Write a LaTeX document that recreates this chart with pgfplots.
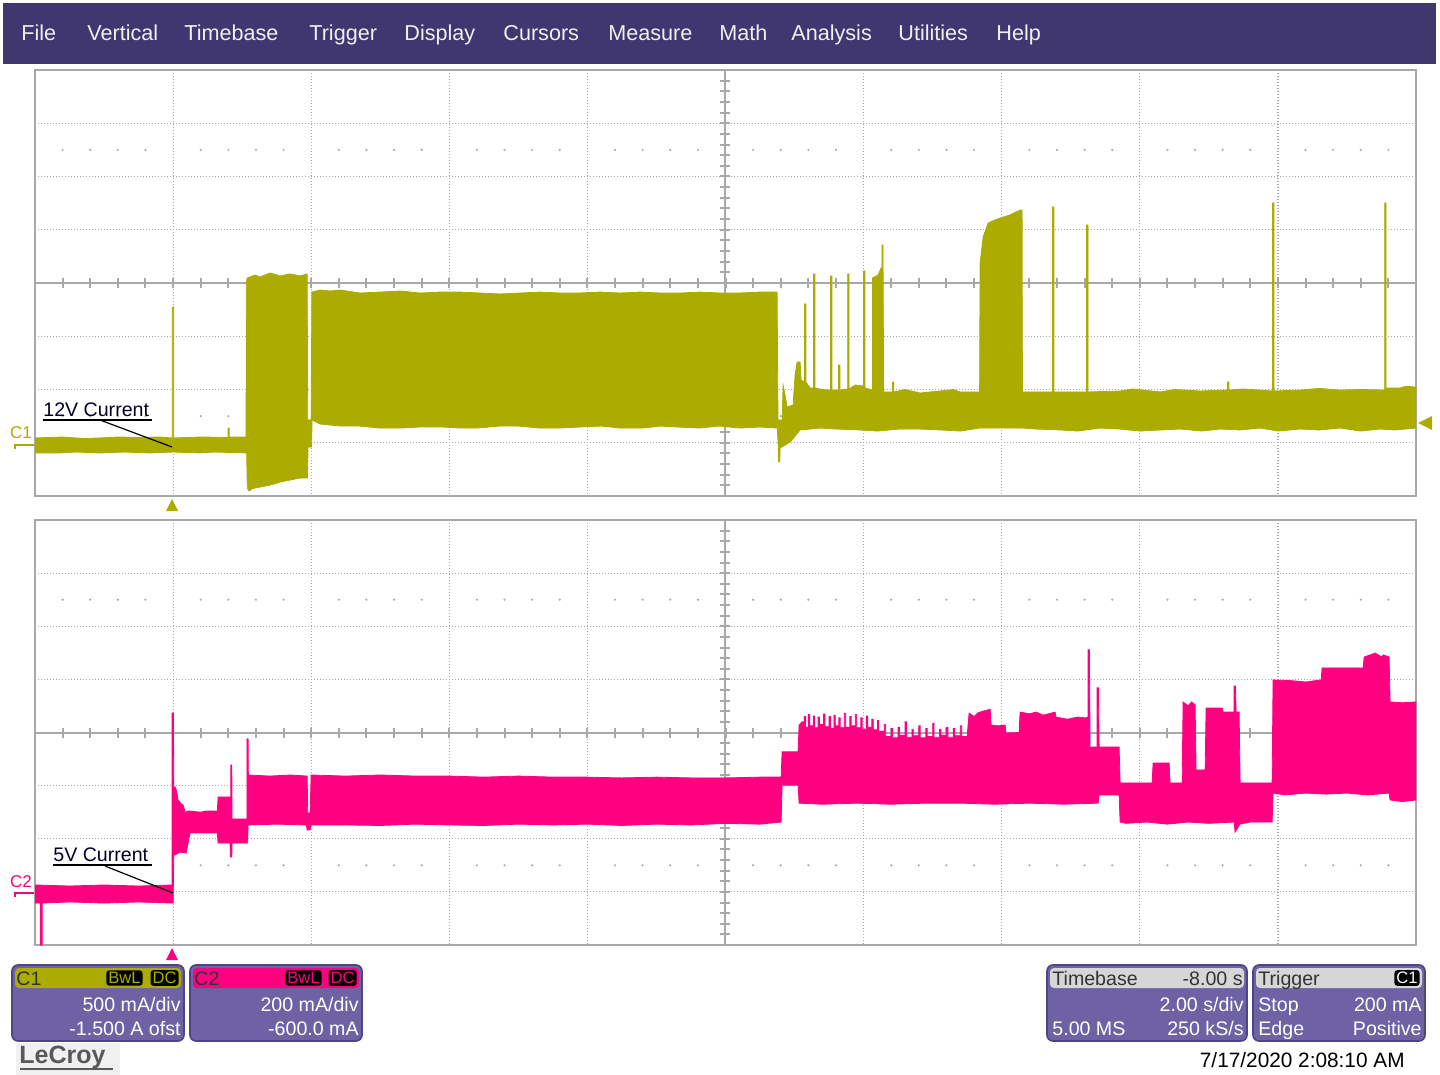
\documentclass[border=0pt]{standalone}
\usepackage{pgfplots}
\pgfplotsset{compat=1.18}
\usepackage{fontspec}
\setmainfont{Liberation Sans}
\definecolor{olv}{HTML}{ABAB00}
\definecolor{pnk}{HTML}{FF0080}
\definecolor{menubg}{HTML}{403670}
\definecolor{boxbg}{HTML}{6E62A5}
\definecolor{boxbd}{HTML}{4E4488}
\definecolor{gridc}{HTML}{A8A8A8}
\definecolor{hdrgray}{HTML}{D6D6D6}
\begin{document}
\begin{tikzpicture}
\begin{scope}[x=0.5pt,y=-0.5pt]
\useasboundingbox (0,0) rectangle (1440,1075);
\fill[white] (0,0) rectangle (1440,1075);
% menu bar
\fill[menubg] (3,3) rectangle (1436,64);
\foreach \xx/\lbl in {21/File,87/Vertical,184/Timebase,309/Trigger,404/Display,503/Cursors,608/Measure,719/Math,791/Analysis,898/Utilities,996/Help}
  \node[anchor=base west,inner sep=0pt,text=white!94!black,font=\fontsize{10.8}{13}\selectfont] at (\xx,41) {\lbl};
% grids
\foreach \pT/\pD in {70/53.25,520/53.125}{
  \foreach \k in {1,2,3,4,6,7,8,9}
    \draw[gridc,line width=0.6pt,dash pattern=on 0.5pt off 1pt] ({35+138.1*\k},\pT) -- ({35+138.1*\k},{\pT+8*\pD});
  \foreach \j in {1,2,3,5,6,7}
    \draw[gridc,line width=0.6pt,dash pattern=on 0.5pt off 1pt] (35,{\pT+\j*\pD}) -- (1416,{\pT+\j*\pD});
  \draw[gridc,line width=1pt] (35,{\pT+4*\pD}) -- (1416,{\pT+4*\pD});
  \draw[gridc,line width=1pt] (725,\pT) -- (725,{\pT+8*\pD});
  \foreach \m in {1,...,49}
    \draw[gridc,line width=1pt] ({35+27.62*\m},{\pT+4*\pD-5}) -- ++(0,10);
  \foreach \m in {1,...,39}
    \draw[gridc,line width=1pt] (720,{\pT+\pD/5*\m}) -- ++(10,0);
  \foreach \k in {0,...,9}
    \foreach \s in {1,2,3,4}{
      \fill[gridc] ({35+138.1*\k+27.62*\s},{\pT+1.5*\pD}) circle (1.2);
      \fill[gridc] ({35+138.1*\k+27.62*\s},{\pT+6.5*\pD}) circle (1.2);
    }
}
\end{scope}

% ---------- C1 : 12V current ----------
\begin{axis}[at={(17.5pt,-248pt)},anchor=south west,scale only axis,
  width=690.5pt,height=213pt,xmin=-2,xmax=18,ymin=-0.5,ymax=3.5,
  xtick=\empty,ytick=\empty,axis line style={draw=gridc,line width=1pt}]
\addplot[fill=olv,draw=olv,line width=0.4pt] coordinates {
(-2.0,0.045) (-1.6,0.054) (-1.3,0.040) (-1.057,0.045) (-0.8,0.054) (-0.478,0.050) (-0.2,0.054)
(-0.012,0.045) (-0.012,1.275) (0.008,1.275) (0.008,0.045) (0.4,0.054)
(0.797,0.050) (0.797,0.138) (0.811,0.138) (0.811,0.054) (1.057,0.054)
(1.060,1.500) (1.072,1.547) (1.188,1.575) (1.260,1.556) (1.405,1.594) (1.550,1.566) (1.694,1.585) (1.839,1.566) (1.941,1.585)
(1.950,0.214) (1.999,0.214) (2.010,1.415)
(2.129,1.434) (2.274,1.425) (2.419,1.434) (2.708,1.406) (2.998,1.415) (3.287,1.425) (3.577,1.406) (3.867,1.415) (4.156,1.415)
(4.446,1.406) (4.736,1.397) (5.025,1.406) (5.315,1.415) (5.605,1.406) (5.894,1.406) (6.184,1.415) (6.474,1.406) (6.763,1.415)
(7.053,1.406) (7.342,1.406) (7.632,1.415) (7.922,1.406) (8.211,1.406) (8.501,1.415) (8.747,1.415)
(8.760,0.214) (8.820,0.214) (8.834,0.542) (8.863,0.448) (8.892,0.336) (8.979,0.354) (9.008,0.636) (9.037,0.758) (9.080,0.758)
(9.095,0.589) (9.145,0.570) (9.145,1.303) (9.165,1.303) (9.165,0.570) (9.225,0.514)
(9.276,0.514) (9.276,1.585) (9.296,1.585) (9.296,0.514)
(9.400,0.500) (9.522,0.495) (9.522,1.566) (9.542,1.566) (9.542,0.495)
(9.638,0.495) (9.638,0.730) (9.658,0.730) (9.658,0.495)
(9.769,0.505) (9.769,1.585) (9.789,1.585) (9.789,0.505)
(9.877,0.542) (10.000,0.533) (10.000,1.613) (10.020,1.613) (10.020,0.514)
(10.130,0.495) (10.130,1.547) (10.210,1.575) (10.253,1.641) (10.265,1.641) (10.265,1.857) (10.282,1.857) (10.282,1.641)
(10.290,0.477) (10.420,0.477) (10.420,0.570) (10.435,0.570) (10.435,0.477)
(10.600,0.500) (10.818,0.467) (11.108,0.486) (11.300,0.500) (11.398,0.477) (11.680,0.477)
(11.687,1.688) (11.731,1.932) (11.803,2.063) (11.904,2.092) (11.977,2.110) (12.122,2.139) (12.266,2.185) (12.295,2.185)
(12.300,0.477) (12.737,0.477) (12.737,2.214) (12.757,2.214) (12.757,0.477)
(13.230,0.477) (13.230,2.045) (13.250,2.045) (13.250,0.477)
(13.715,0.486) (13.900,0.505) (14.294,0.477) (14.500,0.500) (14.873,0.486)
(15.272,0.495) (15.272,0.570) (15.290,0.570) (15.290,0.495) (15.500,0.505)
(15.923,0.486) (15.923,2.251) (15.943,2.251) (15.943,0.486)
(16.322,0.495) (16.600,0.510) (16.901,0.495) (17.200,0.500)
(17.546,0.495) (17.546,2.251) (17.566,2.251) (17.566,0.514) (17.770,0.514) (17.850,0.530) (18.0,0.523)
(18.0,0.138) (17.7,0.120) (17.480,0.129) (17.2,0.110) (16.901,0.138) (16.6,0.120) (16.322,0.129) (16.0,0.110)
(15.742,0.138) (15.45,0.120) (15.163,0.129) (14.9,0.110) (14.584,0.129) (14.3,0.120) (14.004,0.110) (13.7,0.129)
(13.425,0.138) (13.1,0.110) (12.846,0.120) (12.5,0.129) (12.310,0.138) (11.977,0.138) (11.687,0.138) (11.4,0.110)
(11.108,0.120) (10.8,0.129) (10.529,0.129) (10.2,0.110) (9.949,0.120) (9.6,0.129) (9.370,0.138) (9.080,0.120)
(9.008,0.063) (8.936,0.007) (8.863,-0.021) (8.791,-0.049) (8.785,-0.181) (8.770,-0.181) (8.765,-0.049) (8.750,0.138)
(8.5,0.148) (8.211,0.138) (7.9,0.157) (7.632,0.138) (7.3,0.148) (7.053,0.157) (6.8,0.138) (6.474,0.138) (6.2,0.157)
(5.894,0.148) (5.6,0.138) (5.315,0.138) (5.0,0.157) (4.736,0.157) (4.4,0.138) (4.156,0.138) (3.9,0.148) (3.577,0.148)
(3.3,0.138) (2.998,0.138) (2.7,0.157) (2.419,0.157) (2.129,0.176) (2.013,0.214) (2.005,-0.040) (1.955,-0.040)
(1.945,-0.331) (1.839,-0.331) (1.694,-0.350) (1.550,-0.369) (1.405,-0.397) (1.260,-0.416) (1.150,-0.430) (1.100,-0.453)
(1.075,-0.425) (1.065,-0.096) (0.6,-0.087) (0.391,-0.096) (0.0,-0.087) (-0.333,-0.096) (-0.7,-0.087) (-1.057,-0.096)
(-1.4,-0.087) (-1.636,-0.096) (-2.0,-0.096)
};
\end{axis}

% ---------- C2 : 5V current ----------
\begin{axis}[at={(17.5pt,-472.5pt)},anchor=south west,scale only axis,
  width=690.5pt,height=212.5pt,xmin=-2,xmax=18,ymin=-0.2,ymax=1.4,
  xtick=\empty,ytick=\empty,axis line style={draw=gridc,line width=1pt}]
\addplot[fill=pnk,draw=pnk,line width=0.4pt] coordinates {
(-2.0,0.026) (-1.5,0.022) (-1.0,0.026) (-0.5,0.022) (-0.015,0.026) (-0.015,0.673) (0.005,0.673)
(0.010,0.395) (0.029,0.395) (0.050,0.380) (0.072,0.346) (0.120,0.330) (0.145,0.327) (0.188,0.289) (0.200,0.304)
(0.246,0.304) (0.400,0.300) (0.463,0.304) (0.640,0.304) (0.652,0.357) (0.835,0.357) (0.835,0.478) (0.850,0.478)
(0.854,0.274) (1.070,0.274) (1.070,0.576) (1.086,0.576) (1.090,0.440) (1.4,0.436) (1.7,0.440) (1.941,0.436)
(1.950,0.297) (1.984,0.297) (1.999,0.440) (2.5,0.436) (3.0,0.440) (3.5,0.436) (4.0,0.436) (4.5,0.432) (5.0,0.436)
(5.5,0.432) (6.0,0.432) (6.5,0.429) (7.0,0.432) (7.5,0.429) (8.0,0.429) (8.5,0.432) (8.805,0.432)
(8.820,0.527) (9.051,0.527) (9.066,0.628)
(9.109,0.640) (9.14,0.640) (9.14,0.660) (9.16,0.660) (9.16,0.620) (9.20,0.620) (9.20,0.668) (9.22,0.668) (9.22,0.625)
(9.27,0.625) (9.27,0.662) (9.29,0.662) (9.29,0.618) (9.34,0.618) (9.34,0.658) (9.36,0.658) (9.36,0.630) (9.42,0.630)
(9.42,0.670) (9.44,0.670) (9.44,0.622) (9.50,0.622) (9.50,0.660) (9.52,0.660) (9.52,0.615) (9.57,0.615) (9.57,0.665)
(9.59,0.665) (9.59,0.625) (9.64,0.625) (9.64,0.655) (9.66,0.655) (9.66,0.618) (9.72,0.618) (9.72,0.672) (9.74,0.672)
(9.74,0.620) (9.80,0.620) (9.80,0.660) (9.82,0.660) (9.82,0.625) (9.88,0.625) (9.88,0.668) (9.90,0.668) (9.90,0.618)
(9.96,0.618) (9.96,0.655) (9.98,0.655) (9.98,0.612) (10.04,0.612) (10.04,0.662) (10.06,0.662) (10.06,0.620) (10.12,0.620)
(10.12,0.650) (10.14,0.650) (10.14,0.610) (10.20,0.610) (10.20,0.645) (10.22,0.645) (10.22,0.605) (10.268,0.605)
(10.30,0.605) (10.30,0.630) (10.32,0.630) (10.32,0.585) (10.40,0.585) (10.40,0.615) (10.42,0.615) (10.42,0.580)
(10.50,0.580) (10.50,0.620) (10.52,0.620) (10.52,0.590) (10.60,0.590) (10.60,0.640) (10.62,0.640) (10.62,0.582)
(10.70,0.582) (10.70,0.612) (10.72,0.612) (10.72,0.588) (10.80,0.588) (10.80,0.625) (10.82,0.625) (10.82,0.580)
(10.90,0.580) (10.90,0.615) (10.92,0.615) (10.92,0.585) (11.00,0.585) (11.00,0.635) (11.02,0.635) (11.02,0.582)
(11.10,0.582) (11.10,0.612) (11.12,0.612) (11.12,0.590) (11.20,0.590) (11.20,0.620) (11.22,0.620) (11.22,0.582)
(11.30,0.582) (11.30,0.615) (11.32,0.615) (11.32,0.588) (11.40,0.588) (11.40,0.625) (11.42,0.625) (11.42,0.585)
(11.499,0.585)
(11.528,0.673) (11.60,0.660) (11.65,0.673) (11.72,0.680) (11.80,0.685) (11.832,0.688) (11.846,0.628) (11.95,0.625)
(12.049,0.628) (12.064,0.598) (12.252,0.600) (12.266,0.677) (12.40,0.670) (12.50,0.677) (12.60,0.665) (12.773,0.677)
(12.788,0.658) (12.95,0.650) (13.10,0.658) (13.22,0.655) (13.250,0.658) (13.250,0.911) (13.270,0.911) (13.280,0.545)
(13.382,0.545) (13.382,0.768) (13.400,0.768) (13.411,0.545) (13.700,0.545) (13.715,0.410) (14.178,0.410)
(14.193,0.485) (14.424,0.485) (14.439,0.410) (14.613,0.410) (14.627,0.715) (14.70,0.700) (14.75,0.715) (14.801,0.704)
(14.815,0.459) (14.946,0.459) (14.960,0.692) (15.192,0.692) (15.206,0.677) (15.366,0.677) (15.366,0.775) (15.385,0.775)
(15.395,0.677) (15.438,0.677) (15.453,0.410) (15.916,0.410) (15.930,0.798) (16.20,0.795) (16.40,0.790) (16.626,0.798)
(16.640,0.843) (17.234,0.843) (17.249,0.884) (17.408,0.899) (17.50,0.885) (17.53,0.892) (17.610,0.884) (17.625,0.715)
(17.80,0.712) (18.0,0.715)
(18.0,0.346) (17.8,0.340) (17.625,0.346) (17.610,0.372) (17.3,0.365) (17.0,0.372) (16.7,0.368) (16.4,0.372) (16.1,0.365)
(15.930,0.372) (15.916,0.263) (15.60,0.263) (15.45,0.255) (15.380,0.225) (15.366,0.263) (15.0,0.258) (14.7,0.263)
(14.4,0.255) (14.1,0.263) (13.8,0.258) (13.715,0.263) (13.700,0.365) (13.411,0.365) (13.396,0.334) (12.9,0.330)
(12.4,0.334) (11.9,0.330) (11.4,0.334) (10.9,0.334) (10.4,0.330) (9.9,0.334) (9.4,0.330) (9.066,0.334) (9.051,0.402)
(8.820,0.402) (8.805,0.263) (8.5,0.255) (8.0,0.258) (7.5,0.252) (7.0,0.255) (6.5,0.250) (6.0,0.255) (5.5,0.252)
(5.0,0.255) (4.5,0.250) (4.0,0.252) (3.5,0.255) (3.0,0.250) (2.5,0.252) (1.999,0.252) (1.984,0.233) (1.941,0.233)
(1.930,0.252) (1.5,0.255) (1.086,0.252) (1.080,0.184) (0.854,0.184) (0.850,0.131) (0.830,0.131) (0.825,0.184)
(0.652,0.184) (0.640,0.222) (0.246,0.222) (0.188,0.146) (0.100,0.150) (0.072,0.146) (0.029,0.139) (0.010,0.139)
(0.0,-0.042) (-0.5,-0.038) (-1.0,-0.042) (-1.5,-0.038) (-1.897,-0.042) (-1.897,-0.200) (-1.925,-0.200) (-1.925,-0.042)
(-2.0,-0.042)
};
\end{axis}

\begin{scope}[x=0.5pt,y=-0.5pt]
% channel labels and markers
\node[text=olv,inner sep=0pt,font=\fontsize{8.5}{10}\selectfont] at (21,433) {C1};
\draw[olv,line width=1.2pt] (15,449) -- (15,445) -- (34,445);
\node[text=pnk,inner sep=0pt,font=\fontsize{8.5}{10}\selectfont] at (21,882) {C2};
\draw[pnk,line width=1.2pt] (15,897) -- (15,893) -- (34,893);
\fill[olv] (172,499) -- (166,511) -- (178,511) -- cycle;
\fill[pnk] (172,948) -- (166,960) -- (178,960) -- cycle;
\fill[olv] (1418,423) -- (1432,416) -- (1432,430) -- cycle;
% annotations
\node[anchor=base west,inner sep=0pt,text=black!85!blue,font=\fontsize{9.8}{12}\selectfont] at (43,416) {12V Current};
\draw[black,line width=0.6pt] (43,420) -- (152,420);
\draw[black,line width=0.6pt] (100,420) -- (172,447);
\node[anchor=base west,inner sep=0pt,text=black!85!blue,font=\fontsize{9.8}{12}\selectfont] at (53,861) {5V Current};
\draw[black,line width=0.6pt] (53,865) -- (152,865);
\draw[black,line width=0.6pt] (105,866) -- (173,893);
% ---- bottom info boxes ----
\tikzset{boxtxt/.style={inner sep=0pt,text=white,font=\fontsize{9.8}{12}\selectfont},
         hdrtxt/.style={inner sep=0pt,text=black!80,font=\fontsize{9.8}{12}\selectfont},
         tag/.style={inner sep=1pt,fill=black,rounded corners=1.5pt,font=\fontsize{8.3}{9}\selectfont}}
% C1
\draw[boxbd,fill=boxbg,line width=0.8pt,rounded corners=3pt] (12,965) rectangle (184,1041);
\fill[olv,rounded corners=2pt] (15,968) rectangle (181,988);
\node[hdrtxt,anchor=base west] at (16,985) {C1};
\node[tag,text=olv,anchor=east] at (143,978) {BwL};
\node[tag,text=olv,anchor=east] at (179,978) {DC};
\node[boxtxt,anchor=base east] at (181,1011) {500 mA/div};
\node[boxtxt,anchor=base east] at (181,1035) {-1.500 A ofst};
% C2
\draw[boxbd,fill=boxbg,line width=0.8pt,rounded corners=3pt] (190,965) rectangle (362,1041);
\fill[pnk,rounded corners=2pt] (193,968) rectangle (359,988);
\node[hdrtxt,anchor=base west] at (194,985) {C2};
\node[tag,text=pnk,anchor=east] at (322,978) {BwL};
\node[tag,text=pnk,anchor=east] at (357,978) {DC};
\node[boxtxt,anchor=base east] at (359,1011) {200 mA/div};
\node[boxtxt,anchor=base east] at (359,1035) {-600.0 mA};
% Timebase
\draw[boxbd,fill=boxbg,line width=0.8pt,rounded corners=3pt] (1047,965) rectangle (1247,1041);
\fill[hdrgray,rounded corners=2pt] (1050,968) rectangle (1244,988);
\node[hdrtxt,anchor=base west] at (1052,985) {Timebase};
\node[hdrtxt,anchor=base east] at (1243,985) {-8.00 s};
\node[boxtxt,anchor=base east] at (1244,1011) {2.00 s/div};
\node[boxtxt,anchor=base west] at (1052,1035) {5.00 MS};
\node[boxtxt,anchor=base east] at (1244,1035) {250 kS/s};
% Trigger
\draw[boxbd,fill=boxbg,line width=0.8pt,rounded corners=3pt] (1253,965) rectangle (1425,1041);
\fill[hdrgray,rounded corners=2pt] (1256,968) rectangle (1422,988);
\node[hdrtxt,anchor=base west] at (1258,985) {Trigger};
\node[tag,text=white,anchor=east] at (1420,978) {C1};
\node[boxtxt,anchor=base west] at (1258,1011) {Stop};
\node[boxtxt,anchor=base east] at (1422,1011) {200 mA};
\node[boxtxt,anchor=base west] at (1258,1035) {Edge};
\node[boxtxt,anchor=base east] at (1422,1035) {Positive};
% logo and date
\fill[black!6] (16,1043) rectangle (120,1075);
\node[anchor=west,inner sep=0pt,text=black!65,font=\fontsize{12.5}{14}\bfseries\selectfont] at (19,1057) {LeCroy};
\draw[black!65,line width=1pt] (20,1069) -- (113,1069);
\node[anchor=base east,inner sep=0pt,text=black,font=\fontsize{10.4}{12}\selectfont] at (1405,1067) {7/17/2020 2:08:10 AM};
\end{scope}
\end{tikzpicture}
\end{document}
